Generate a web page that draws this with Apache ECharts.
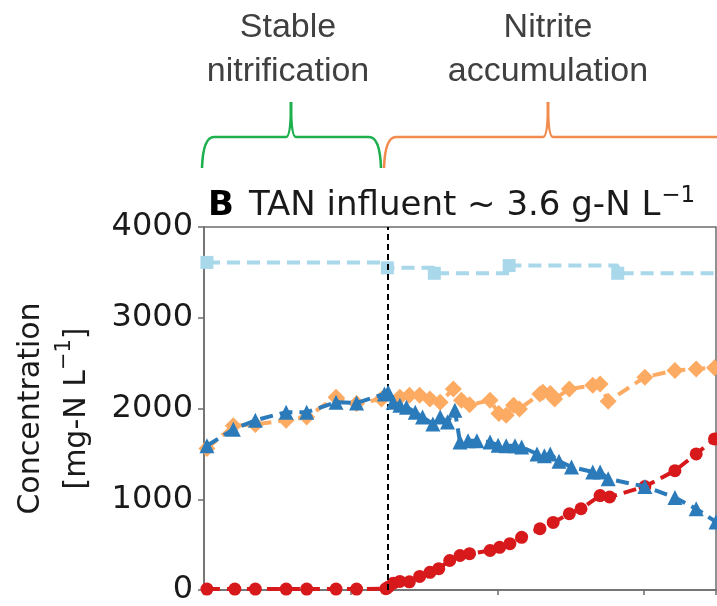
<!DOCTYPE html>
<html>
<head>
<meta charset="utf-8">
<script src="https://cdn.jsdelivr.net/npm/echarts@6/dist/echarts.min.js"></script>
<style>
html, body { margin: 0; padding: 0; background: #fff; }
#chart { width: 717px; height: 606px; }
</style>
</head>
<body>
<div id="chart"></div>
<script>
// operating day (x) and concentration in mg-N/L (y)
const switchDay = 125;
const xMax = 349;
const xTicks = [0, 100, 200, 300];
const yTicks = [0, 1000, 2000, 3000, 4000];

// TAN influent (step line)
const influentDays = [2, 125, 157, 208, 282, 360];
const influentVals = [3610, 3550, 3490, 3575, 3490, 3490];

// TAN in reactor (blue triangles)
const tanDays = [2, 20, 35, 56, 70, 90, 104, 123, 125.5, 129, 133.5, 138, 144, 149, 156, 161, 166, 171,
  174.5, 180, 186, 195, 200.5, 206, 212, 216.5, 227, 232, 236, 242, 250.5, 265, 270, 275.5, 300.5, 321, 335.5, 349];
const tanVals = [1590, 1770, 1870, 1960, 1960, 2070, 2060, 2160, 2180, 2070, 2035, 2015, 1960, 1905, 1830, 1905, 1850, 1980,
  1630, 1645, 1645, 1630, 1595, 1590, 1590, 1575, 1500, 1480, 1500, 1420, 1355, 1300, 1300, 1225, 1140, 1020, 895, 750];

// nitrite (red circles)
const no2Days = [2, 21, 35, 56, 70, 90, 104, 124, 125.5, 129, 133.5, 140, 147, 154, 160,
  167.5, 174.5, 181, 195, 201.5, 208.5, 216.5, 229, 238, 249, 257, 270, 276.5, 300.5, 321, 335.5, 348];
const no2Vals = [10, 10, 10, 10, 10, 10, 10, 15, 30, 75, 95, 90, 150, 195, 235,
  325, 380, 400, 435, 470, 510, 580, 675, 745, 840, 895, 1040, 1025, 1140, 1315, 1500, 1665];

// nitrate (orange diamonds)
const no3Days = [2, 20, 35, 56, 70, 90, 104, 121, 133.5, 140, 147, 154, 161, 170, 175.5, 181, 195, 201, 206, 211, 215,
  229, 231, 236, 239, 249, 265, 270, 275.5, 300.5, 321, 335.5, 348];
const no3Vals = [1560, 1810, 1825, 1870, 1905, 2125, 2055, 2105, 2125, 2145, 2145, 2105, 2070, 2215, 2090, 2040, 2090, 1945, 1925, 2035, 1995,
  2160, 2180, 2165, 2105, 2215, 2255, 2270, 2080, 2345, 2420, 2435, 2450];

const zip = (xs, ys) => xs.map((x, i) => [x, ys[i]]);

const axisColor = '#6e6e6e';
const textColor = '#1a1a1a';
const dash = [13, 7];

// curly brace (opening upward) built from curves
function brace(x0, x1, xp, yBar, yTop, yBot, color) {
  const st = { stroke: color, lineWidth: 2.6, fill: null };
  return [
    { type: 'bezierCurve', shape: { x1: x0, y1: yBot, cpx1: x0 + 1, cpy1: yBar, x2: x0 + 12, y2: yBar }, style: st },
    { type: 'line', shape: { x1: x0 + 12, y1: yBar, x2: xp - 5, y2: yBar }, style: st },
    { type: 'bezierCurve', shape: { x1: xp - 5, y1: yBar, cpx1: xp, cpy1: yBar, x2: xp, y2: yTop }, style: st },
    { type: 'bezierCurve', shape: { x1: xp, y1: yTop, cpx1: xp, cpy1: yBar, x2: xp + 5, y2: yBar }, style: st },
    { type: 'line', shape: { x1: xp + 5, y1: yBar, x2: x1 - 12, y2: yBar }, style: st },
    { type: 'bezierCurve', shape: { x1: x1 - 12, y1: yBar, cpx1: x1 - 1, cpy1: yBar, x2: x1, y2: yBot }, style: st }
  ];
}

function label2(x, lines) {
  return lines.map((t, i) => ({
    type: 'text', x: x, y: 28 + i * 44,
    style: { text: t, font: '34px "Liberation Sans", Arial, sans-serif', fill: '#404040',
      textAlign: 'center', textVerticalAlign: 'middle' }
  }));
}

const chart = echarts.init(document.getElementById('chart'));
chart.setOption({
  animation: false,
  backgroundColor: '#fff',
  title: {
    text: '{b|B}{t|TAN influent ~ 3.6 g-N L}{sup|−1}',
    left: 203, top: 180,
    textStyle: {
      rich: {
        b: { fontFamily: 'DejaVu Sans', fontWeight: 'bold', fontSize: 34, color: '#000',
          padding: [0, 15, 0, 0], lineHeight: 43 },
        t: { fontFamily: 'DejaVu Sans', fontWeight: 'normal', fontSize: 34, color: textColor, lineHeight: 43 },
        sup: { fontFamily: 'DejaVu Sans', fontWeight: 'normal', fontSize: 23, color: textColor,
          lineHeight: 26, verticalAlign: 'top', padding: [0, 0, 0, 1] }
      }
    }
  },
  grid: {
    left: 204, right: 1, top: 227, bottom: 16,
    show: true, borderColor: axisColor, borderWidth: 1.5, backgroundColor: 'transparent'
  },
  xAxis: {
    type: 'value', min: xTicks[0], max: xMax, interval: xTicks[1] - xTicks[0],
    axisLine: { show: true, lineStyle: { color: axisColor, width: 1.5 } },
    axisTick: { show: true, length: 5, lineStyle: { color: axisColor, width: 1.5 } },
    axisLabel: { show: false },
    splitLine: { show: false }
  },
  yAxis: {
    type: 'value', min: yTicks[0], max: yTicks[yTicks.length - 1], interval: yTicks[1] - yTicks[0],
    name: '{n|Concentration}\n{n|[mg-N L}{s|−1}{n|]}',
    nameLocation: 'middle', nameRotate: 90, nameGap: 104,
    nameTextStyle: {
      fontFamily: 'DejaVu Sans', fontSize: 30, color: textColor, lineHeight: 46,
      rich: {
        n: { fontFamily: 'DejaVu Sans', fontSize: 30, color: textColor, lineHeight: 46 },
        s: { fontFamily: 'DejaVu Sans', fontSize: 21, color: textColor, lineHeight: 30, verticalAlign: 'top' }
      }
    },
    axisLine: { show: true, lineStyle: { color: axisColor, width: 1.5 } },
    axisTick: { show: true, length: 6, lineStyle: { color: axisColor, width: 1.5 } },
    axisLabel: { fontFamily: 'DejaVu Sans', fontSize: 32, color: textColor, margin: 11,
      formatter: v => String(v) },
    splitLine: { show: false }
  },
  series: [
    {
      name: 'TAN influent', type: 'line', step: 'end',
      data: zip(influentDays, influentVals),
      symbol: 'rect', symbolSize: 13,
      itemStyle: { color: '#a8d8ea' },
      lineStyle: { color: '#a8d8ea', width: 4, type: dash },
      markLine: {
        silent: true, symbol: 'none', label: { show: false },
        lineStyle: { color: '#000', width: 2, type: [6, 4] },
        data: [{ xAxis: switchDay }]
      },
      z: 2
    },
    {
      name: 'Nitrite', type: 'line',
      data: zip(no2Days, no2Vals),
      symbol: 'circle', symbolSize: 13,
      itemStyle: { color: '#d7191c' },
      lineStyle: { color: '#d7191c', width: 4, type: dash },
      z: 3
    },
    {
      name: 'Nitrate', type: 'line',
      data: zip(no3Days, no3Vals),
      symbol: 'diamond', symbolSize: 17,
      itemStyle: { color: '#fdaa63' },
      lineStyle: { color: '#fdaa63', width: 4, type: dash },
      z: 4
    },
    {
      name: 'TAN', type: 'line',
      data: zip(tanDays, tanVals),
      symbol: 'triangle', symbolSize: 15,
      itemStyle: { color: '#2b7bba' },
      lineStyle: { color: '#2b7bba', width: 4, type: dash },
      z: 5
    }
  ],
  graphic: [].concat(
    brace(202, 381, 291, 137, 102, 168, '#1db04d'),
    brace(384, 760, 548, 137, 102, 168, '#f28c4e'),
    label2(288, ['Stable', 'nitrification']),
    label2(548, ['Nitrite', 'accumulation'])
  )
});
</script>
</body>
</html>
